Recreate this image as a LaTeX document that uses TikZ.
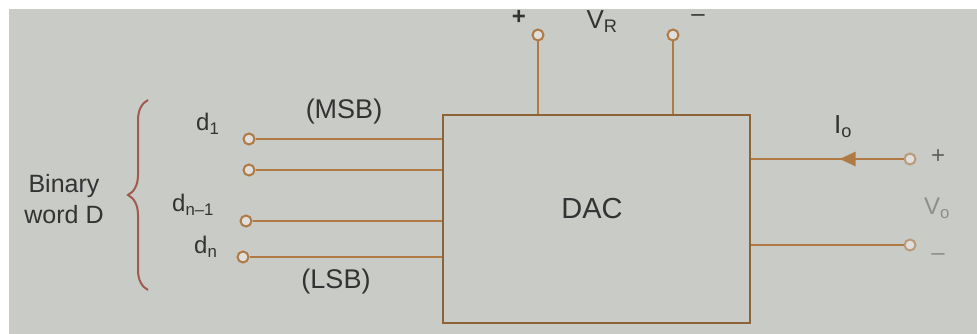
\documentclass[tikz,border=0pt]{standalone}
\usepackage{fontspec}
\setmainfont{Liberation Sans}
\usetikzlibrary{decorations.pathreplacing,decorations.markings,arrows.meta}
\definecolor{bg}{HTML}{C9CBC6}
\definecolor{wire}{HTML}{B07A45}
\definecolor{ink}{HTML}{333333}
\definecolor{faint}{HTML}{8E8E8A}
\definecolor{bracec}{HTML}{A05A50}
\begin{document}
\begin{tikzpicture}[x=1pt,y=-1pt,
  wireline/.style={draw=wire,line width=2.6pt},
  term/.style={circle,draw=wire,line width=2pt,fill=bg!60!white,minimum size=11pt,inner sep=0pt},
  lbl/.style={text=ink,inner sep=0pt,font=\fontsize{24}{27}\selectfont},
  flbl/.style={text=faint,inner sep=0pt,font=\fontsize{24}{27}\selectfont}]
\useasboundingbox (0,0) rectangle (977,334);
\fill[white] (0,0) rectangle (977,334);
\fill[bg] (9,9) rectangle (977,334);
% DAC box
\node[draw=wire!80!black,line width=2.6pt,minimum width=307pt,minimum height=208pt,inner sep=0pt] (dac) at (596.5,219) {};
\node[lbl,font=\fontsize{29}{32}\selectfont] (dactext) at (592,209) {DAC};
% input terminals
\node[term] (t1) at (249,139) {};
\node[term] (t2) at (249,170) {};
\node[term] (t3) at (246,221) {};
\node[term] (t4) at (243,257) {};
\foreach \t in {t1,t2,t3,t4} \draw[wireline] (\t) -- (\t -| dac.west);
\node[lbl,anchor=west] (d1) at (196,124) {d\textsubscript{1}};
\node[lbl,anchor=west] (dn1) at (172,205) {d\textsubscript{n--1}};
\node[lbl,anchor=west] (dn) at (194,247) {d\textsubscript{n}};
\node[lbl,font=\fontsize{27}{30}\selectfont] (msb) at (344,112) {(MSB)};
\node[lbl,font=\fontsize{27}{30}\selectfont] (lsb) at (336,282) {(LSB)};
\node[lbl,align=center,font=\fontsize{25}{31}\selectfont] (bw) at (64,199) {Binary\\word D};
\coordinate (bb) at (148,290);
\coordinate (bt) at (148,100);
\draw[bracec,line width=2pt,decorate,decoration={brace,amplitude=20pt}] (bb) -- (bt);
% reference voltage terminals
\node[term] (vp) at (538,35) {};
\node[term] (vm) at (673,35) {};
\draw[wireline] (vp) -- (vp |- dac.north);
\draw[wireline] (vm) -- (vm |- dac.north);
\node[lbl,font=\bfseries\fontsize{24}{27}\selectfont] (vplus) at (519,17) {+};
\node[lbl,font=\fontsize{26}{29}\selectfont] (vr) at (602,22) {V\textsubscript{R}};
\node[lbl] (vminus) at (698,18) {--};
% output terminals
\node[term,draw=wire!60!bg] (io) at (910,159) {};
\node[term,draw=wire!60!bg] (vo) at (910,245) {};
\draw[wireline,postaction={decorate},decoration={markings,mark=at position 0.42 with {\arrow{Triangle[length=16pt,width=14pt]}}}] (io) -- (io -| dac.east);
\draw[wireline] (vo) -- (vo -| dac.east);
\node[lbl,font=\fontsize{26}{29}\selectfont] (iolbl) at (843,127) {I\textsubscript{o}};
\node[flbl,text=ink!70!bg] (oplus) at (938,157) {+};
\node[flbl] (volbl) at (937,208) {V\textsubscript{o}};
\node[flbl] (ominus) at (938,257) {--};
\end{tikzpicture}
\end{document}
